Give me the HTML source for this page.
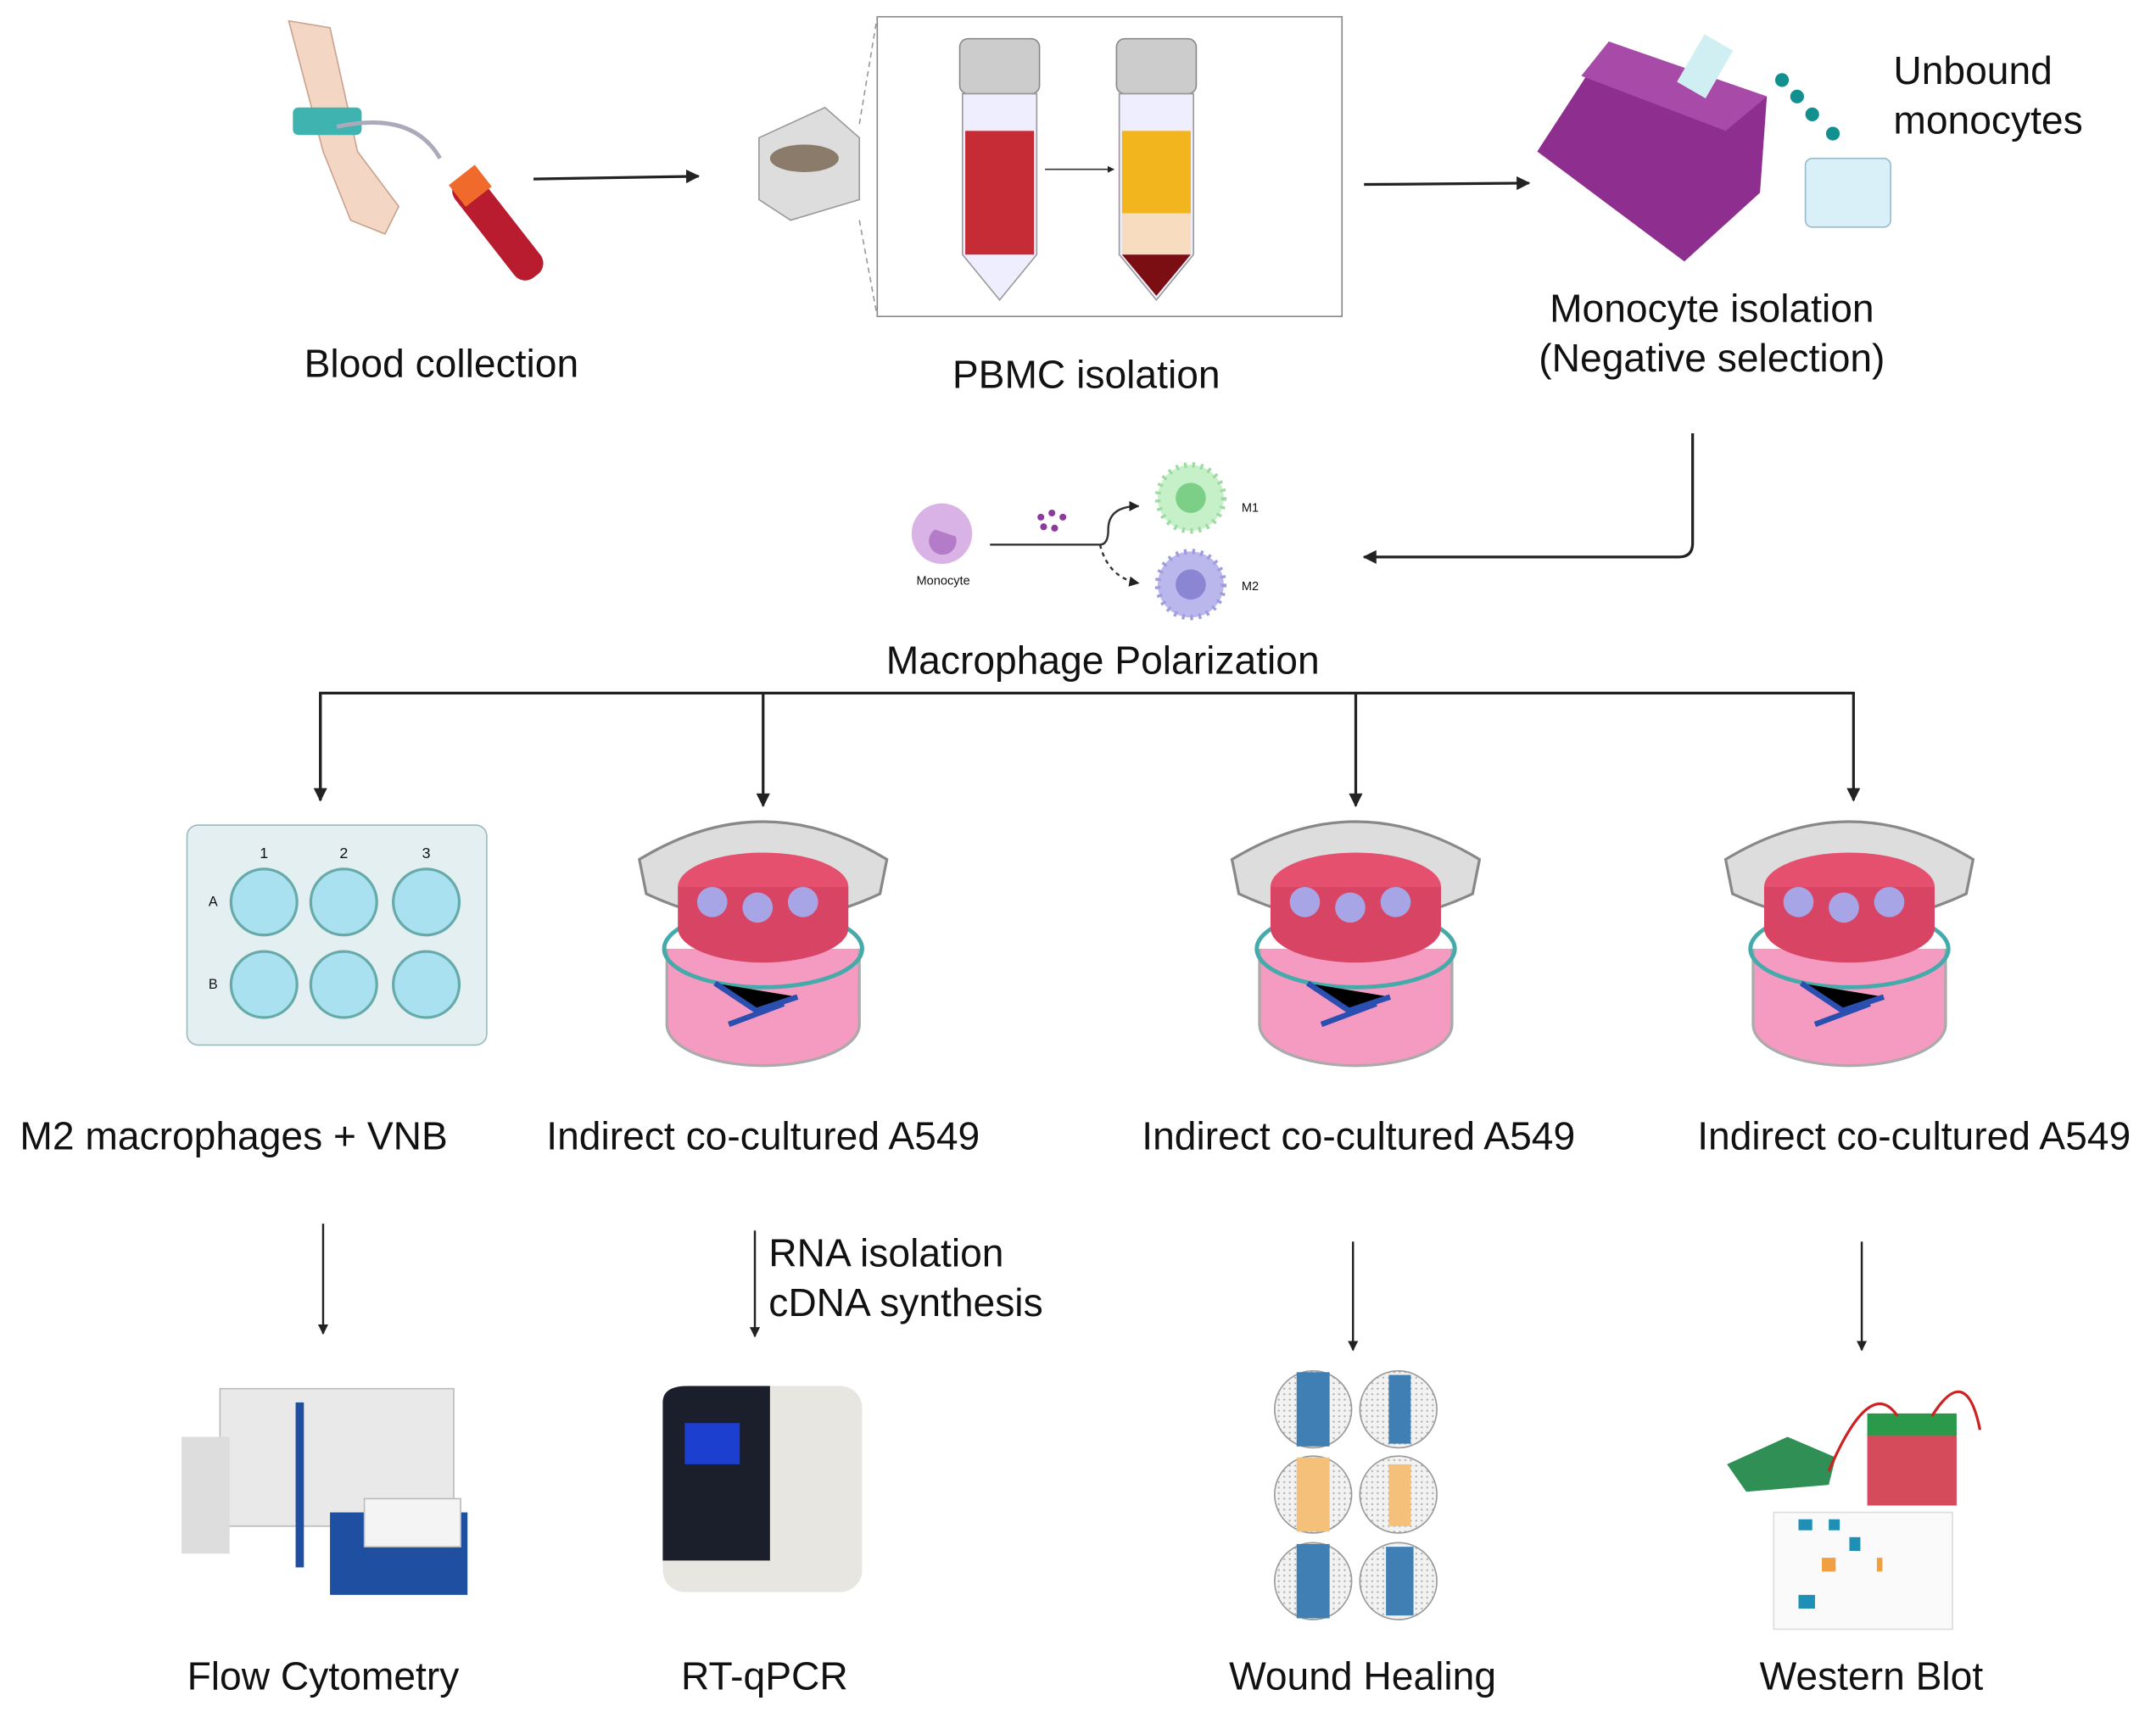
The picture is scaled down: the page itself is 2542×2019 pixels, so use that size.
<!DOCTYPE html>
<html><head><meta charset="utf-8"><style>
html,body{margin:0;padding:0;background:#fff}
svg{display:block}
text{font-family:"Liberation Sans",Arial,sans-serif;fill:#111}
</style></head><body>
<svg width="2542" height="2019" viewBox="0 0 1568 1245" xmlns="http://www.w3.org/2000/svg">
<defs>
<marker id="a" viewBox="0 0 10 10" refX="9" refY="5" markerWidth="5" markerHeight="5" orient="auto"><path d="M0,0L10,5L0,10z" fill="#222"/></marker>
<radialGradient id="pink" cx="50%" cy="50%" r="50%"><stop offset="0" stop-color="#f6b8d2"/><stop offset="1" stop-color="#e55f95"/></radialGradient>
<pattern id="dots" width="4" height="4" patternUnits="userSpaceOnUse"><rect width="4" height="4" fill="#f2f2f2"/><circle cx="2" cy="2" r="0.7" fill="#aaa"/></pattern>
</defs>
<g stroke="#222" stroke-width="2" fill="none">
<line x1="388" y1="130" x2="508" y2="128" marker-end="url(#a)"/>
<line x1="992" y1="134" x2="1112" y2="133" marker-end="url(#a)"/>
<path d="M1231,315 V395 Q1231,405 1221,405 H992" marker-end="url(#a)"/>
<path d="M233,582 V504 H1348 V582" marker-end="url(#a)"/>
<line x1="233" y1="504" x2="233" y2="582" marker-end="url(#a)"/>
<line x1="555" y1="504" x2="555" y2="586" marker-end="url(#a)"/>
<line x1="986" y1="504" x2="986" y2="586" marker-end="url(#a)"/>
<line x1="235" y1="890" x2="235" y2="970" stroke-width="1.5" marker-end="url(#a)"/>
<line x1="549" y1="895" x2="549" y2="972" stroke-width="1.5" marker-end="url(#a)"/>
<line x1="984" y1="903" x2="984" y2="982" stroke-width="1.5" marker-end="url(#a)"/>
<line x1="1354" y1="903" x2="1354" y2="982" stroke-width="1.5" marker-end="url(#a)"/>
</g>
<!-- blood collection -->
<path d="M210,15 L240,20 L260,110 L290,150 L280,170 L255,160 L235,110 Z" fill="#f3d6c4" stroke="#c9a38e"/>
<rect x="213" y="78" width="50" height="20" fill="#3fb3b0" rx="4"/>
<path d="M245,92 Q300,80 320,115" stroke="#aab" stroke-width="3" fill="none"/>
<rect x="350" y="120" width="24" height="90" rx="10" fill="#b81c2e" transform="rotate(-38 362 165)"/>
<rect x="330" y="125" width="24" height="20" fill="#f06a2c" transform="rotate(-38 342 135)"/>
<!-- centrifuge -->
<path d="M552,100 L600,78 L625,100 L625,145 L575,160 L552,145 Z" fill="#ddd" stroke="#999"/>
<ellipse cx="585" cy="115" rx="25" ry="10" fill="#8a7b6a"/>
<!-- PBMC box -->
<rect x="638" y="12" width="338" height="218" fill="#fff" stroke="#888"/>
<line x1="625" y1="90" x2="638" y2="12" stroke="#999" stroke-dasharray="4 3"/>
<line x1="625" y1="160" x2="638" y2="230" stroke="#999" stroke-dasharray="4 3"/>
<rect x="698" y="28" width="58" height="40" rx="6" fill="#ccc" stroke="#888"/>
<path d="M700,68 H754 V185 L727,218 L700,185 Z" fill="#eef" stroke="#999"/>
<rect x="702" y="95" width="50" height="90" fill="#c62c36"/>
<rect x="812" y="28" width="58" height="40" rx="6" fill="#ccc" stroke="#888"/>
<path d="M814,68 H868 V185 L841,218 L814,185 Z" fill="#eef" stroke="#999"/>
<rect x="816" y="95" width="50" height="60" fill="#f2b51d"/>
<rect x="816" y="155" width="50" height="30" fill="#f7dcc0"/>
<path d="M816,185 H866 L841,215 Z" fill="#7a0e12"/>
<line x1="760" y1="123" x2="810" y2="123" stroke="#333" marker-end="url(#a)"/>
<!-- magnet -->
<path d="M1118,110 L1170,30 L1285,70 L1280,140 L1225,190 Z" fill="#8e2e8e"/>
<path d="M1170,30 L1285,70 L1255,95 L1150,55 Z" fill="#a84aa8"/>
<rect x="1228" y="28" width="24" height="40" fill="#cfeff3" transform="rotate(30 1240 48)"/>
<g fill="#12908f"><circle cx="1296" cy="58" r="5"/><circle cx="1307" cy="70" r="5"/><circle cx="1318" cy="83" r="5"/><circle cx="1333" cy="97" r="5"/></g>
<rect x="1313" y="115" width="62" height="50" rx="5" fill="#d9f0f8" stroke="#9bc"/>
<!-- polarization -->
<circle cx="685" cy="388" r="22" fill="#d9b3e6"/><path d="M680,385 a10,10 0 1 0 15,5" fill="#b47cc8"/>
<text x="686" y="425" font-size="9" text-anchor="middle" fill="#555">Monocyte</text>
<line x1="720" y1="396" x2="800" y2="396" stroke="#333" stroke-width="1.5"/>
<path d="M800,396 Q806,396 806,385 Q806,368 828,368" stroke="#333" stroke-width="1.5" fill="none" marker-end="url(#a)"/>
<path d="M800,396 Q806,420 828,424" stroke="#333" stroke-width="1.5" stroke-dasharray="3 3" fill="none" marker-end="url(#a)"/>
<g fill="#8e3a9c"><circle cx="757" cy="376" r="2.5"/><circle cx="765" cy="373" r="2.5"/><circle cx="773" cy="376" r="2.5"/><circle cx="759" cy="383" r="2.5"/><circle cx="767" cy="384" r="2.5"/></g>
<circle cx="866" cy="362" r="24" fill="#c6f0c8" stroke="#9ddba2" stroke-width="4" stroke-dasharray="2 4"/><circle cx="866" cy="362" r="11" fill="#7ccf87"/>
<circle cx="866" cy="425" r="24" fill="#b9b7ec" stroke="#9f9ce0" stroke-width="4" stroke-dasharray="2 4"/><circle cx="866" cy="425" r="11" fill="#8a86d4"/>
<text x="903" y="372" font-size="9" fill="#555">M1</text><text x="903" y="429" font-size="9" fill="#555">M2</text>
<!-- well plate -->
<rect x="136" y="600" width="218" height="160" rx="8" fill="#e4eff2" stroke="#9bb"/>
<g fill="#a9e1f0" stroke="#6aa" stroke-width="2">
<circle cx="192" cy="656" r="24"/><circle cx="250" cy="656" r="24"/><circle cx="310" cy="656" r="24"/>
<circle cx="192" cy="716" r="24"/><circle cx="250" cy="716" r="24"/><circle cx="310" cy="716" r="24"/></g>
<text x="192" y="624" font-size="11" text-anchor="middle" fill="#246">1</text><text x="250" y="624" font-size="11" text-anchor="middle" fill="#246">2</text><text x="310" y="624" font-size="11" text-anchor="middle" fill="#246">3</text>
<text x="155" y="659" font-size="10" text-anchor="middle" fill="#246">A</text><text x="155" y="719" font-size="10" text-anchor="middle" fill="#246">B</text>
<!-- transwells -->
<g id="tw">
<ellipse cx="555" cy="745" rx="70" ry="30" fill="url(#pink)"/>
<path d="M485,690 V745 A70,30 0 0 0 625,745 V690" fill="#f59ac0" stroke="#aaa" stroke-width="2"/>
<ellipse cx="555" cy="690" rx="72" ry="28" fill="none" stroke="#4aa" stroke-width="3"/>
<path d="M520,715 l30,20 l30,-10 M530,745 l40,-15" stroke="#2a4fb0" stroke-width="4"/>
<path d="M465,625 Q555,570 645,625 L640,650 Q555,690 470,650 Z" fill="#ddd" stroke="#888" stroke-width="2"/>
<ellipse cx="555" cy="645" rx="62" ry="25" fill="#e6506f"/>
<path d="M493,645 V675 A62,25 0 0 0 617,675 V645" fill="#d84464"/>
<circle cx="518" cy="656" r="11" fill="#a7a5e6"/><circle cx="551" cy="660" r="11" fill="#a7a5e6"/><circle cx="584" cy="656" r="11" fill="#a7a5e6"/>
</g>
<use href="#tw" x="431"/><use href="#tw" x="790"/>
<!-- flow cytometer -->
<path d="M160,1010 H330 V1110 H160 Z" fill="#e9e9e9" stroke="#bbb"/>
<rect x="132" y="1045" width="35" height="85" fill="#ddd"/>
<rect x="240" y="1100" width="100" height="60" fill="#1f4fa0"/>
<rect x="265" y="1090" width="70" height="35" fill="#f4f4f4" stroke="#bbb"/>
<rect x="215" y="1020" width="6" height="120" fill="#1f4fa0"/>
<!-- qPCR -->
<rect x="482" y="1008" width="145" height="150" rx="16" fill="#e8e6e0"/>
<path d="M482,1020 Q482,1008 500,1008 H560 V1135 H482 Z" fill="#1b1f2c"/>
<rect x="498" y="1035" width="40" height="30" fill="#1d3fcf"/>
<!-- wound healing -->
<g stroke="#999">
<circle cx="955" cy="1025" r="28" fill="url(#dots)"/><circle cx="1017" cy="1025" r="28" fill="url(#dots)"/>
<circle cx="955" cy="1087" r="28" fill="url(#dots)"/><circle cx="1017" cy="1087" r="28" fill="url(#dots)"/>
<circle cx="955" cy="1150" r="28" fill="url(#dots)"/><circle cx="1017" cy="1150" r="28" fill="url(#dots)"/></g>
<rect x="943" y="998" width="24" height="54" fill="#3f7fb3"/><rect x="1010" y="1000" width="16" height="50" fill="#3f7fb3"/>
<rect x="943" y="1060" width="24" height="54" fill="#f4c07a"/><rect x="1010" y="1065" width="16" height="45" fill="#f4c07a"/>
<rect x="943" y="1123" width="24" height="54" fill="#3f7fb3"/><rect x="1008" y="1125" width="20" height="50" fill="#3f7fb3"/>
<!-- western blot -->
<rect x="1290" y="1100" width="130" height="85" fill="#fafafa" stroke="#ddd"/>
<g fill="#1f8fb5"><rect x="1308" y="1105" width="10" height="8"/><rect x="1330" y="1105" width="8" height="8"/><rect x="1308" y="1160" width="12" height="10"/><rect x="1345" y="1118" width="8" height="10"/></g>
<rect x="1325" y="1133" width="10" height="10" fill="#f0a040"/><rect x="1365" y="1133" width="4" height="10" fill="#f0a040"/>
<rect x="1358" y="1040" width="65" height="55" fill="#d64b5c"/><rect x="1358" y="1028" width="65" height="16" fill="#2a9a4a"/>
<path d="M1256,1065 L1300,1045 L1335,1060 L1330,1080 L1270,1085 Z" fill="#2f8f55"/>
<path d="M1330,1070 Q1360,1000 1380,1030 M1405,1030 Q1430,990 1440,1040" stroke="#c22" stroke-width="2" fill="none"/>
<!-- labels -->
<g font-size="28.5">
<text x="321" y="274" text-anchor="middle">Blood collection</text>
<text x="790" y="282" text-anchor="middle">PBMC isolation</text>
<text x="1245" y="234" text-anchor="middle">Monocyte isolation</text>
<text x="1245" y="270" text-anchor="middle">(Negative selection)</text>
<text x="1377" y="61">Unbound</text>
<text x="1377" y="97">monocytes</text>
<text x="802" y="490" text-anchor="middle">Macrophage Polarization</text>
<text x="170" y="836" text-anchor="middle">M2 macrophages + VNB</text>
<text x="555" y="836" text-anchor="middle">Indirect co-cultured A549</text>
<text x="988" y="836" text-anchor="middle">Indirect co-cultured A549</text>
<text x="1392" y="836" text-anchor="middle">Indirect co-cultured A549</text>
<text x="559" y="921">RNA isolation</text>
<text x="559" y="957">cDNA synthesis</text>
<text x="235" y="1229" text-anchor="middle">Flow Cytometry</text>
<text x="556" y="1229" text-anchor="middle">RT-qPCR</text>
<text x="991" y="1229" text-anchor="middle">Wound Healing</text>
<text x="1361" y="1229" text-anchor="middle">Western Blot</text>
</g>
</svg>
</body></html>
